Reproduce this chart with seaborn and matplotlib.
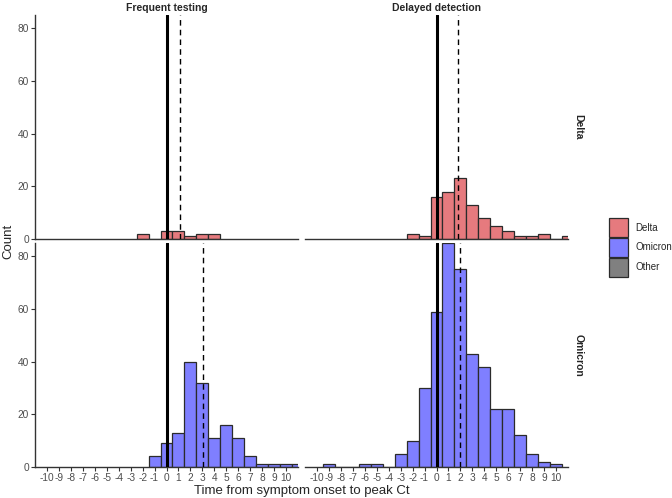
"""
Time from symptom onset to peak Ct, by testing regime and variant.
"""

import numpy as np
import pandas as pd
import matplotlib
matplotlib.use("Agg")
import matplotlib.pyplot as plt
from matplotlib.patches import Rectangle
import seaborn as sns

# Data (counts per day, day -10 .. 11)
DAYS = list(range(-10, 12))
FREQ_DELTA   = [0, 0, 0, 0, 0, 0, 0, 0, 2, 0, 3, 3, 1, 2, 2, 0, 0, 0, 0, 0, 0, 0]
FREQ_OMICRON = [0, 0, 0, 0, 0, 0, 0, 0, 0, 4, 9, 13, 40, 32, 11, 16, 11, 4, 1, 1, 1, 1]
DEL_DELTA    = [0, 0, 0, 0, 0, 0, 0, 0, 2, 1, 16, 18, 23, 13, 8, 5, 3, 1, 1, 2, 0, 1]
DEL_OMICRON  = [0, 1, 0, 0, 1, 1, 0, 5, 10, 30, 59, 85, 75, 43, 38, 22, 22, 12, 5, 2, 1, 0]

# Dashed reference lines (central estimate per panel)
CENTRE_FREQ  = [1.1, 3.07]   # Delta, Omicron
CENTRE_DEL   = [1.8, 2.0]

COLUMNS  = ["Frequent testing", "Delayed detection"]
ROWS     = ["Delta", "Omicron"]
VARIANTS = ["Delta", "Omicron", "Other"]
COLOURS  = {"Delta": "#E67A7E", "Omicron": "#7F7FFF", "Other": "#808080"}
X_TICKS  = list(range(-10, 11))
Y_TICKS  = [0, 20, 40, 60, 80]

sns.set_theme(style="ticks")
plt.rcParams["font.family"] = ["Liberation Sans", "DejaVu Sans"]
plt.rcParams["axes.unicode_minus"] = False

frames = []
for col, counts in [("Frequent testing", FREQ_DELTA), ("Delayed detection", DEL_DELTA)]:
    frames.append(pd.DataFrame({"day": DAYS, "n": counts, "col": col, "row": "Delta"}))
for col, counts in [("Frequent testing", FREQ_OMICRON), ("Delayed detection", DEL_OMICRON)]:
    frames.append(pd.DataFrame({"day": DAYS, "n": counts, "col": col, "row": "Omicron"}))
df = pd.concat(frames, ignore_index=True)
centres = {("Frequent testing", "Delta"): CENTRE_FREQ[0], ("Frequent testing", "Omicron"): CENTRE_FREQ[1],
           ("Delayed detection", "Delta"): CENTRE_DEL[0], ("Delayed detection", "Omicron"): CENTRE_DEL[1]}

W, H = 672, 498
fig = plt.figure(figsize=(W / 100, H / 100), dpi=100)

lefts   = [35, 305]
tops    = [15, 243]
pw, ph  = 263, 224

for i, row in enumerate(ROWS):
    for j, col in enumerate(COLUMNS):
        ax = fig.add_axes([lefts[j] / W, 1 - (tops[i] + ph) / H, pw / W, ph / H])
        sub = df[(df.col == col) & (df.row == row) & (df.n > 0)]
        sns.histplot(data=sub, x="day", weights="n", discrete=True, ax=ax,
                     color=COLOURS[row], alpha=1, edgecolor="#2b2b2b", linewidth=0.9)
        ax.axvline(0, color="black", lw=2.2, zorder=5)
        ax.axvline(centres[(col, row)], color="black", lw=1.0, ls=(0, (4, 3)), zorder=5)
        ax.set_xlim(-11, 11)
        ax.set_ylim(0, 85)
        ax.set_xlabel("")
        ax.set_ylabel("")
        for s in ["top", "right"]:
            ax.spines[s].set_visible(False)
        for s in ["bottom", "left"]:
            ax.spines[s].set_color("#333333")
            ax.spines[s].set_linewidth(1.0)
        ax.tick_params(colors="#333333", labelcolor="#4D4D4D", labelsize=7.3,
                       length=3, width=0.8, pad=1.5)
        ax.set_xticks(X_TICKS)
        ax.set_yticks(Y_TICKS)
        if i == 0:
            ax.tick_params(axis="x", bottom=False, labelbottom=False)
            ax.set_title(col, fontsize=7.5, fontweight="bold", pad=3)
        if j == 1:
            ax.spines["left"].set_visible(False)
            ax.tick_params(axis="y", left=False, labelleft=False)
            ax.text(1.02, 0.5, row, transform=ax.transAxes, rotation=270,
                    fontsize=7.5, fontweight="bold", ha="left", va="center")

fig.text(8 / W, 1 - 241 / H, "Count", rotation=90, fontsize=9.5, ha="center", va="center")
fig.text(302 / W, 1 - 491 / H, "Time from symptom onset to peak Ct", fontsize=9.5,
         ha="center", va="center")

# legend drawn by hand to match ggplot's key boxes
for k, v in enumerate(VARIANTS):
    y0 = 218 + 20 * k
    fig.patches.append(Rectangle((609 / W, 1 - (y0 + 19) / H), 19 / W, 19 / H,
                                 transform=fig.transFigure, facecolor=COLOURS[v],
                                 edgecolor="#2b2b2b", linewidth=0.9))
    fig.text(635 / W, 1 - (y0 + 9.5) / H, v, fontsize=7, ha="left", va="center")

plt.savefig("out.png", dpi=100)
